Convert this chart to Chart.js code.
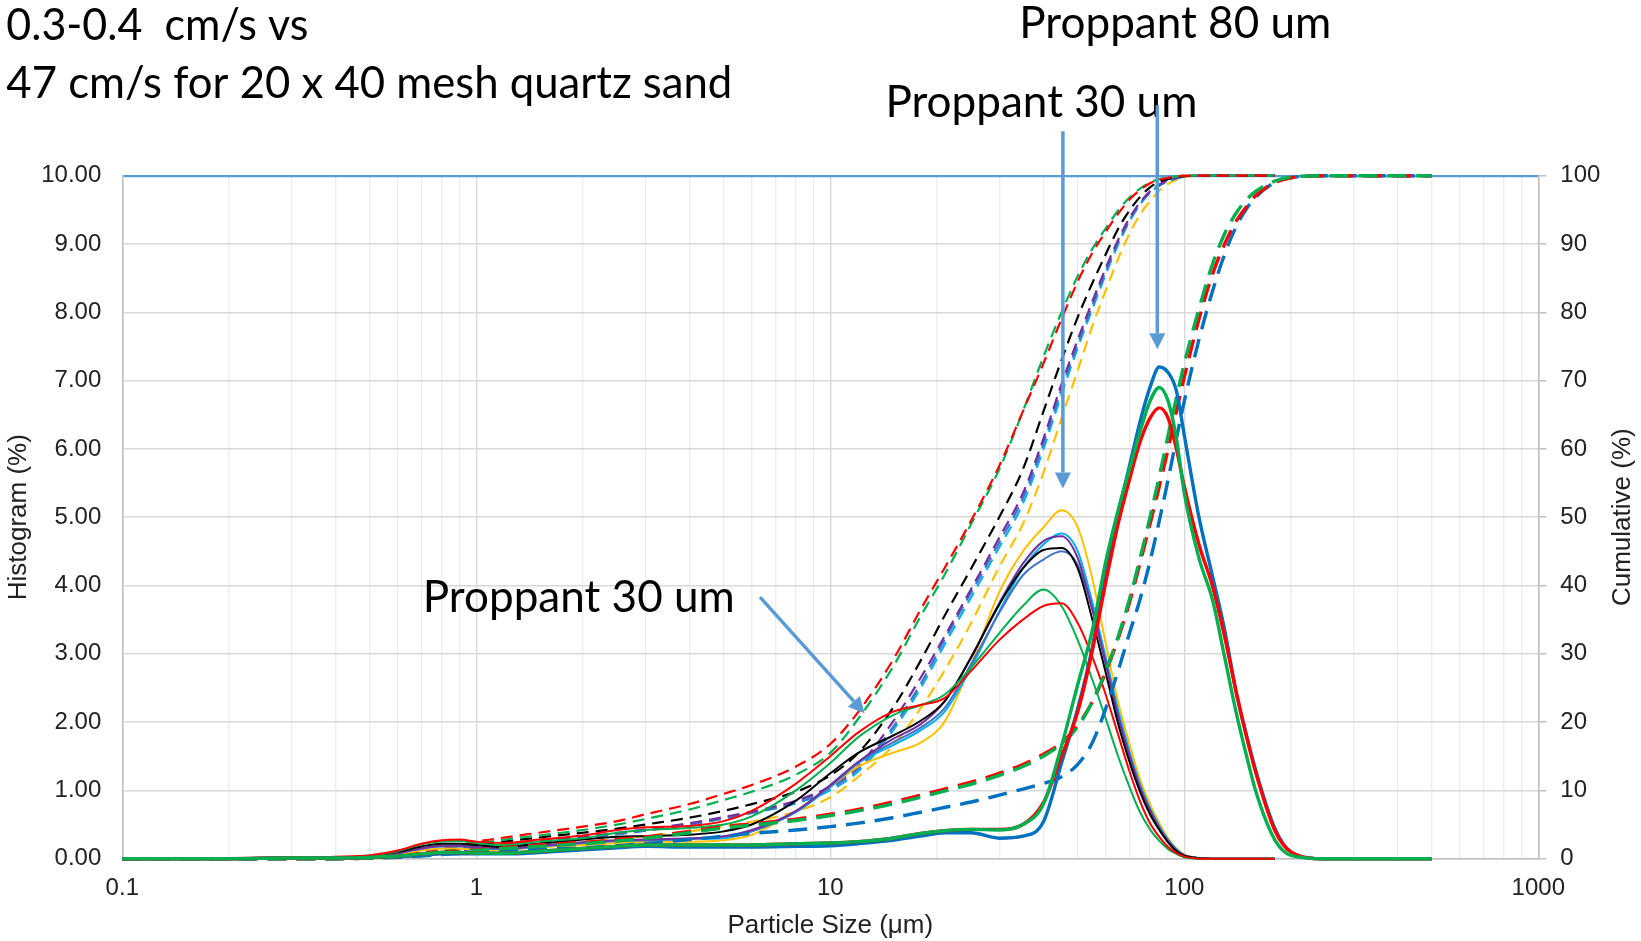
<!DOCTYPE html>
<html><head><meta charset="utf-8">
<script src="https://cdn.jsdelivr.net/npm/chart.js@4.4.1/dist/chart.umd.min.js"></script>
<style>html,body{margin:0;padding:0;background:#fff;}canvas{display:block;}</style>
</head><body>
<canvas id="c" width="1641" height="941"></canvas>
<script>
// ---------- DATA ----------
const particleSizes = [0.1,0.2,0.3,0.4,0.5,0.6,0.7,0.8,0.9,1,1.2,1.5,2,2.5,3,4,5,6,8,10,12,15,18,21,25,30,35,40,45,50,55,60,65,70,75,80,85,90,95,100,110,120,130,140,150,160,180,200,250,300,400,500];
const xTickValues = [0.1,0.2,0.3,0.4,0.5,0.6,0.7,0.8,0.9,1,2,3,4,5,6,7,8,9,10,20,30,40,50,60,70,80,90,100,200,300,400,500,600,700,800,900,1000];
const xTickLabels = {0.1:'0.1',1:'1',10:'10',100:'100',1000:'1000'};

// Proppant 30 um samples (thin lines), histogram (%)
const hist30Red    = [0,0.01,0.02,0.03,0.05,0.12,0.22,0.27,0.28,0.25,0.23,0.28,0.34,0.42,0.46,0.48,0.55,0.7,1.1,1.5,1.85,2.15,2.25,2.35,2.75,3.2,3.5,3.7,3.74,3.45,2.95,2.4,1.82,1.28,0.84,0.52,0.32,0.17,0.08,0.03,0,0,0,0,0,0,0];
const hist30Green  = [0,0.01,0.02,0.02,0.04,0.11,0.21,0.25,0.26,0.23,0.2,0.25,0.3,0.38,0.42,0.45,0.5,0.62,1.0,1.4,1.78,2.1,2.25,2.4,2.8,3.3,3.7,3.94,3.7,3.2,2.62,2.05,1.5,1.05,0.68,0.43,0.26,0.14,0.07,0.02,0,0,0,0,0,0,0];
const hist30Black  = [0,0.01,0.01,0.02,0.04,0.1,0.18,0.22,0.22,0.2,0.17,0.22,0.28,0.32,0.33,0.35,0.4,0.5,0.85,1.25,1.55,1.8,2.02,2.3,2.95,3.72,4.25,4.52,4.55,4.25,3.5,2.72,1.98,1.42,0.98,0.65,0.42,0.24,0.11,0.04,0.01,0,0,0,0,0,0];
const hist30Purple = [0,0.01,0.01,0.02,0.03,0.08,0.15,0.19,0.19,0.17,0.15,0.19,0.24,0.27,0.28,0.3,0.33,0.42,0.7,1.08,1.42,1.75,1.97,2.3,2.95,3.74,4.32,4.65,4.72,4.4,3.65,2.85,2.08,1.5,1.03,0.7,0.44,0.25,0.12,0.05,0.01,0,0,0,0,0,0];
const hist30Slate  = [0,0.01,0.01,0.02,0.03,0.08,0.15,0.18,0.18,0.16,0.14,0.18,0.23,0.26,0.27,0.29,0.32,0.4,0.69,1.06,1.41,1.7,1.92,2.2,2.85,3.6,4.15,4.38,4.5,4.3,3.65,2.88,2.12,1.53,1.06,0.72,0.46,0.27,0.13,0.05,0.01,0,0,0,0,0,0];
const hist30Sky    = [0,0.01,0.01,0.02,0.03,0.08,0.15,0.19,0.19,0.16,0.14,0.18,0.23,0.26,0.27,0.29,0.3,0.4,0.68,1.05,1.4,1.66,1.88,2.15,2.8,3.62,4.25,4.6,4.76,4.5,3.75,2.95,2.18,1.57,1.09,0.74,0.48,0.28,0.14,0.05,0.01,0,0,0,0,0,0];
const hist30Gold   = [0,0.01,0.01,0.02,0.03,0.06,0.12,0.15,0.15,0.13,0.13,0.17,0.2,0.23,0.25,0.25,0.27,0.35,0.7,1.05,1.35,1.55,1.7,2.0,2.85,3.9,4.5,4.85,5.1,4.85,4.1,3.15,2.3,1.68,1.16,0.8,0.52,0.3,0.15,0.06,0.01,0,0,0,0,0,0];

// Proppant 30 um samples, cumulative (%)
const cum30Red    = [0,0,0,0,0.2,0.5,1.0,1.5,2.0,2.5,3.1,3.8,4.7,5.5,6.5,8.0,9.5,10.8,13.5,16.8,21.5,29,36.5,42.5,49.5,57.5,65.5,72.5,79,84.5,88.7,91.8,94.4,96.5,97.9,98.9,99.4,99.7,99.9,100,100,100,100,100,100,100,100];
const cum30Green  = [0,0,0,0,0.2,0.4,0.9,1.3,1.8,2.2,2.8,3.4,4.2,5.0,5.8,7.2,8.6,9.8,12.3,15.5,20.5,28,35.5,41.5,49,57,65.5,73.5,80,85.3,89.3,92.3,94.9,96.8,98.1,99.0,99.5,99.8,99.9,100,100,100,100,100,100,100,100];
const cum30Black  = [0,0,0,0,0.1,0.4,0.8,1.2,1.6,2.0,2.5,3.1,3.8,4.4,5.0,6.0,7.0,8.0,9.8,12.2,15.5,22,29,35.5,42.5,50,57,65.5,73,79.3,84.3,88.5,92.2,94.9,96.9,98.3,99.1,99.5,99.8,99.95,100,100,100,100,100,100,100];
const cum30Purple = [0,0,0,0,0.1,0.3,0.6,1.0,1.3,1.6,2.1,2.6,3.2,3.8,4.3,5.2,6.1,6.9,8.5,10.6,13.6,20,26.5,32.5,39.5,47,53.5,61.5,69.5,76,81.6,86.5,90.6,93.8,96.1,97.7,98.7,99.3,99.7,99.9,100,100,100,100,100,100,100];
const cum30Slate  = [0,0,0,0,0.1,0.25,0.5,0.85,1.15,1.4,1.9,2.4,3.0,3.6,4.1,5.0,5.9,6.7,8.2,10.3,13.2,19.2,25.6,32,39,46.3,52.8,60.8,68.8,75.4,81,86,90.2,93.5,95.9,97.6,98.6,99.2,99.6,99.9,100,100,100,100,100,100,100];
const cum30Sky    = [0,0,0,0,0.1,0.25,0.5,0.85,1.15,1.4,1.9,2.4,3.0,3.6,4.1,5.0,5.9,6.7,8.1,10.0,12.8,18.7,25,31.3,38.3,45.6,52,60,68,74.8,80.5,85.6,89.9,93.3,95.8,97.5,98.5,99.2,99.6,99.9,100,100,100,100,100,100,100];
const cum30Gold   = [0,0,0,0,0.05,0.2,0.4,0.7,0.9,1.1,1.5,1.9,2.4,2.9,3.3,4.0,4.7,5.4,6.9,9.0,12,16.5,22,27.5,34.5,42.7,49,56.5,64.5,71.5,78,83.2,87.8,91.5,94.3,96.3,97.8,98.8,99.4,99.8,100,100,100,100,100,100,100];

// Proppant 80 um samples (thick lines), histogram (%)
const hist80Blue  = [0,0,0.01,0.01,0.02,0.03,0.05,0.07,0.07,0.07,0.07,0.09,0.13,0.16,0.18,0.17,0.17,0.17,0.18,0.19,0.22,0.27,0.33,0.38,0.38,0.3,0.33,0.54,1.4,2.2,3.1,4.2,5.05,5.75,6.4,6.9,7.2,7.12,6.85,6.2,5.0,4.15,3.35,2.45,1.8,1.25,0.45,0.1,0,0,0,0];
const hist80Green = [0,0,0.01,0.01,0.02,0.04,0.07,0.09,0.09,0.08,0.08,0.11,0.15,0.18,0.2,0.2,0.2,0.2,0.22,0.23,0.25,0.3,0.37,0.41,0.43,0.42,0.5,0.8,1.65,2.55,3.35,4.35,5.1,5.7,6.25,6.7,6.9,6.7,6.15,5.35,4.4,3.8,2.95,2.15,1.5,0.95,0.28,0.05,0,0,0,0];
const hist80Red   = [0,0,0.01,0.01,0.02,0.04,0.07,0.09,0.09,0.08,0.08,0.11,0.15,0.18,0.2,0.2,0.2,0.2,0.22,0.23,0.25,0.3,0.37,0.41,0.43,0.43,0.5,0.82,1.5,2.15,3.05,4.05,4.9,5.55,6.1,6.45,6.6,6.45,6.0,5.45,4.6,4.0,3.25,2.45,1.78,1.22,0.42,0.1,0,0,0,0];

// Proppant 80 um samples, cumulative (%)
const cum80Green = [0,0,0,0,0.1,0.3,0.5,0.8,1.0,1.2,1.5,1.8,2.2,2.6,3.0,3.8,4.5,4.9,5.6,6.3,7.0,8.0,9.0,9.9,10.9,12.2,13.5,15.0,16.8,19.3,23,27.5,32.5,38,44,50,56,62,67.5,72.5,80.5,87,91.5,94.5,96.5,97.8,99.2,99.8,100,100,100,100];
const cum80Red   = [0,0,0,0,0.1,0.3,0.6,0.9,1.1,1.3,1.6,2.0,2.4,2.8,3.2,4.0,4.7,5.1,5.8,6.5,7.2,8.3,9.3,10.2,11.2,12.5,13.8,15.3,17,19.5,23,27.3,32.2,37.5,43.3,49,54.5,60,65.5,70.5,79,85.5,90,93.3,95.5,97.2,99,99.7,100,100,100,100];
const cum80Blue  = [0,0,0,0,0.1,0.2,0.4,0.6,0.8,0.9,1.1,1.35,1.6,1.9,2.2,2.8,3.3,3.7,4.2,4.7,5.2,6.0,6.8,7.5,8.3,9.3,10.2,11.0,12.0,13.8,17,22,27.5,33,38,43.5,49.5,55.5,61.5,67,76,83,88.5,92.5,95.2,97,99,99.7,100,100,100,100];

// ---------- helpers ----------
const pts = vals => vals.map((v, i) => ({x: particleSizes[i], y: v}));
function ds(label, vals, color, width, dash, axis, order) {
  return {label, data: pts(vals), borderColor: color, backgroundColor: color,
    borderWidth: width, borderDash: dash || [], yAxisID: axis, order,
    pointRadius: 0, fill: false, cubicInterpolationMode: 'monotone',
    clip: {left: 2, right: 2, top: 6, bottom: 6}};
}
const C = {red:'#FF0000', green:'#00B050', black:'#000000', purple:'#7030A0', slate:'#4472C4', sky:'#00B0F0', gold:'#FFC000', blue:'#0070C0'};
const thinDash = [12, 7], thickDash = [19, 10];

const datasets = [
  ds('80 blue hist', hist80Blue, C.blue, 3.4, null, 'y', 3),
  ds('80 red hist', hist80Red, C.red, 3.4, null, 'y', 2),
  ds('80 green hist', hist80Green, C.green, 3.4, null, 'y', 1),
  ds('80 blue cum', cum80Blue, C.blue, 3.4, thickDash, 'y2', 6),
  ds('80 red cum', cum80Red, C.red, 3.4, thickDash, 'y2', 5),
  ds('80 green cum', cum80Green, C.green, 3.4, thickDash, 'y2', 4),
  ds('30 red hist', hist30Red, C.red, 2, null, 'y', 10),
  ds('30 green hist', hist30Green, C.green, 2, null, 'y', 11),
  ds('30 black hist', hist30Black, C.black, 2, null, 'y', 12),
  ds('30 purple hist', hist30Purple, C.purple, 2, null, 'y', 13),
  ds('30 slate hist', hist30Slate, C.slate, 2, null, 'y', 14),
  ds('30 sky hist', hist30Sky, C.sky, 2, null, 'y', 15),
  ds('30 gold hist', hist30Gold, C.gold, 2, null, 'y', 16),
  ds('30 red cum', cum30Red, C.red, 2.2, thinDash, 'y2', 20),
  ds('30 green cum', cum30Green, C.green, 2.2, thinDash, 'y2', 21),
  ds('30 black cum', cum30Black, C.black, 2.2, thinDash, 'y2', 22),
  ds('30 purple cum', cum30Purple, C.purple, 2.2, thinDash, 'y2', 23),
  ds('30 slate cum', cum30Slate, C.slate, 2.2, thinDash, 'y2', 24),
  ds('30 sky cum', cum30Sky, C.sky, 2.2, thinDash, 'y2', 25),
  ds('30 gold cum', cum30Gold, C.gold, 2.2, thinDash, 'y2', 26),
];

// ---------- annotations ----------
const textFont = 'Lato, "Open Sans", sans-serif';
const texts = [
  {t:'0.3-0.4  cm/s vs', x:6.3, base:40, w:302},
  {t:'47 cm/s for 20 x 40 mesh quartz sand', x:6.3, base:97.5, w:726},
  {t:'Proppant 80 um', x:1019.3, base:37.7, w:312},
  {t:'Proppant 30 um', x:885.4, base:117, w:312},
  {t:'Proppant 30 um', x:422.8, base:612, w:312},
];
// arrows in data units (x = particle size, y = histogram scale)
const arrows = [
  {x1:45.4, y1:10.65, x2:45.4, y2:5.42},
  {x1:83.9, y1:11.03, x2:83.9, y2:7.46},
  {x1:6.33, y1:3.83, x2:12.5, y2:2.13},
];

const annot = {
  id: 'annot',
  afterDraw(chart) {
    const ctx = chart.ctx, xs = chart.scales.x, ys = chart.scales.y;
    ctx.save();
    for (const o of texts) {
      ctx.font = '44px ' + textFont;
      const w = ctx.measureText(o.t).width;
      ctx.save();
      ctx.translate(o.x, o.base);
      ctx.scale(o.w / w, 1);
      ctx.fillStyle = '#000';
      ctx.textBaseline = 'alphabetic';
      ctx.textAlign = 'left';
      ctx.fillText(o.t, 0, 0);
      ctx.restore();
    }
    const col = '#5B9BD5';
    for (const a of arrows) {
      const x1 = xs.getPixelForValue(a.x1), y1 = ys.getPixelForValue(a.y1);
      const x2 = xs.getPixelForValue(a.x2), y2 = ys.getPixelForValue(a.y2);
      const ang = Math.atan2(y2 - y1, x2 - x1);
      const hl = 16, hw = 8;
      const bx = x2 - hl * Math.cos(ang), by = y2 - hl * Math.sin(ang);
      ctx.strokeStyle = col; ctx.fillStyle = col; ctx.lineWidth = 3.5; ctx.lineCap = 'butt';
      ctx.beginPath(); ctx.moveTo(x1, y1); ctx.lineTo(bx, by); ctx.stroke();
      ctx.beginPath();
      ctx.moveTo(x2, y2);
      ctx.lineTo(bx + hw * Math.sin(ang), by - hw * Math.cos(ang));
      ctx.lineTo(bx - hw * Math.sin(ang), by + hw * Math.cos(ang));
      ctx.closePath(); ctx.fill();
    }
    ctx.save();
    ctx.translate(1623.3, (chart.chartArea.top + chart.chartArea.bottom) / 2);
    ctx.rotate(-Math.PI / 2);
    ctx.font = '26px "Liberation Sans", Arial, sans-serif';
    ctx.fillStyle = '#222'; ctx.textAlign = 'center'; ctx.textBaseline = 'middle';
    ctx.fillText('Cumulative (%)', 0, 0);
    ctx.restore();
    ctx.restore();
  }
};

const axFont = {family: '"Liberation Sans", Arial, sans-serif', size: 24};
const titleFont = {family: '"Liberation Sans", Arial, sans-serif', size: 26};
const isDecade = v => Math.abs(Math.log10(v) - Math.round(Math.log10(v))) < 1e-9;

new Chart(document.getElementById('c'), {
  type: 'line',
  data: {datasets},
  plugins: [annot],
  options: {
    responsive: false, animation: false, devicePixelRatio: 1,
    layout: {padding: {top: 175.7, left: 0, right: 0, bottom: 0}},
    plugins: {legend: {display: false}, tooltip: {enabled: false}},
    scales: {
      x: {
        type: 'logarithmic', position: 'bottom', min: 0.1, max: 1000,
        afterBuildTicks(s) { s.ticks = xTickValues.map(v => ({value: v})); },
        afterFit(s) { s.height = 82.3; },
        ticks: {autoSkip: false, maxRotation: 0, minRotation: 0, padding: 15, font: axFont, color: '#222',
          callback: v => (xTickLabels[v] !== undefined ? xTickLabels[v] : '')},
        grid: {drawTicks: false, lineWidth: 1.4,
          color: c => (c.tick && isDecade(c.tick.value)) ? '#D9D9D9' : '#EDEDED'},
        border: {color: '#BFBFBF', width: 1.5},
        title: {display: true, text: 'Particle Size (μm)', font: titleFont, color: '#222', padding: {top: 0, bottom: 0}}
      },
      y: {
        position: 'left', min: 0, max: 10,
        afterFit(s) { s.width = 122.3; },
        ticks: {stepSize: 1, padding: 21, font: axFont, color: '#222', callback: v => v.toFixed(2)},
        grid: {drawTicks: false, lineWidth: c => (c.tick && c.tick.value === 10 ? 2.2 : 1.5),
          color: c => (c.tick && c.tick.value === 10 ? '#5B9BD5' : '#D9D9D9')},
        border: {color: '#BFBFBF', width: 1.5},
        title: {display: true, text: 'Histogram (%)', font: titleFont, color: '#222', padding: {top: 3.4, bottom: 0}}
      },
      y2: {
        position: 'right', min: 0, max: 100,
        afterFit(s) { s.width = 102.7; },
        ticks: {stepSize: 10, padding: 14, font: axFont, color: '#222'},
        grid: {drawOnChartArea: false, drawTicks: true, tickLength: 8, color: '#BFBFBF', lineWidth: 1.5},
        border: {color: '#BFBFBF', width: 1.5}
      }
    }
  }
});
</script>
</body></html>
